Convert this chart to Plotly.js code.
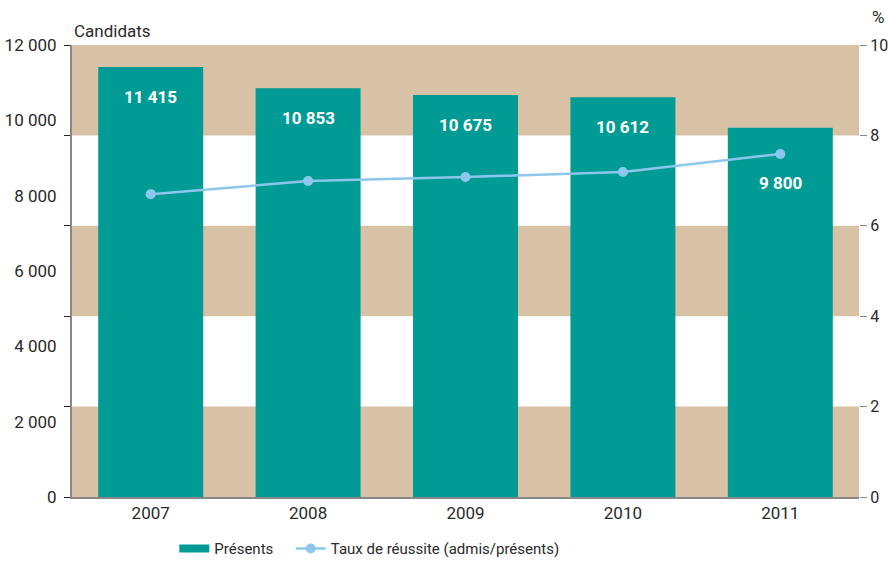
<!DOCTYPE html>
<html><head><meta charset="utf-8">
<script src="https://cdn.plot.ly/plotly-3.0.1.min.js"></script>
<style>html,body{margin:0;padding:0;background:#fff}</style>
</head><body>
<div id="chart" style="width:888px;height:563px"></div>
<script>
const years = [2007, 2008, 2009, 2010, 2011];
const presents = [11415, 10853, 10675, 10612, 9800];
const taux = [6.7, 6.99, 7.08, 7.19, 7.59];
const leftTickVals = [0,2000,4000,6000,8000,10000,12000];
const leftTickText = ['0','2 000','4 000','6 000','8 000','10 000','12 000'];
const leftTickMarks = [0,2400,4800,7200,9600,12000];
const rightTickVals = [0,2,4,6,8,10];
const bandRanges = [[0,2],[4,6],[8,10]];

const FONT = 'Roboto, "Liberation Sans", sans-serif';
const TEAL = '#009B94', TAN = '#D8C2A5', BLUE = '#8DC8EC', TXT = '#2a2a2a';
const fmt = v => String(v).replace(/\B(?=(\d{3})+(?!\d))/g, ' ');
const labelShift = (i) => i === presents.length - 1 ? -43 : -18;

const traces = [
  {type:'bar', x: years, y: presents, name:'Présents', marker:{color:TEAL}, width:0.667, hoverinfo:'skip', showlegend:false},
  {type:'scatter', mode:'lines', x:[null], y:[null], name:'Présents', line:{color:TEAL, width:8}, hoverinfo:'skip', legend:'legend'},
  {type:'scatter', mode:'lines+markers', x: years, y: taux, name:'Taux de réussite (admis/présents)',
   yaxis:'y2', line:{color:BLUE, width:2.5}, marker:{color:BLUE, size:10}, legend:'legend2'}
];

const shapes = bandRanges.map(r => ({type:'rect', xref:'paper', yref:'y2', x0:0, x1:1, y0:r[0], y1:r[1],
  fillcolor:TAN, line:{width:0}, layer:'below'}));

const annotations = presents.map((v,i) => ({x: years[i], y: v, xref:'x', yref:'y', text: '<b>'+fmt(v)+'</b>',
  showarrow:false, yanchor:'top', yshift: labelShift(i), font:{family:FONT, size:17, color:'#fff'}}));
annotations.push({xref:'paper', yref:'paper', x:0, y:1, xanchor:'left', yanchor:'bottom', yshift:2,
  text:'Candidats', showarrow:false, font:{family:FONT, size:17, color:TXT}});
annotations.push({xref:'paper', yref:'paper', x:1, y:1, xanchor:'right', yanchor:'bottom', xshift:27, yshift:16,
  text:'%', showarrow:false, font:{family:FONT, size:17, color:TXT}});

const legendBase = {orientation:'h', xanchor:'left', y:-0.078, yanchor:'top',
  font:{family:FONT, size:15, color:TXT}, itemwidth:30, bgcolor:'rgba(0,0,0,0)'};

const layout = {
  width:888, height:563,
  margin:{l:72, r:29, t:45, b:66, autoexpand:false},
  paper_bgcolor:'#fff', plot_bgcolor:'#fff',
  font:{family:FONT, size:17, color:TXT},
  showlegend:true,
  legend:Object.assign({x:0.13}, legendBase),
  legend2:Object.assign({x:0.278}, legendBase),
  xaxis:{range:[years[0]-0.5, years[years.length-1]+0.5], tickvals:years, ticktext:years.map(String),
    showline:true, linecolor:'#888', linewidth:2, ticks:'', showgrid:false, zeroline:false,
    tickfont:{family:FONT, size:17, color:TXT}},
  yaxis:{range:[0,12000], tickvals:leftTickVals, ticktext:leftTickText, ticks:'', ticklabelstandoff:10,
    minor:{tickvals:leftTickMarks, ticks:'outside', ticklen:6, tickcolor:'#222', showgrid:false},
    showgrid:false, zeroline:false, showline:true, linecolor:'#888', linewidth:2,
    tickfont:{family:FONT, size:17, color:TXT}},
  yaxis2:{overlaying:'y', side:'right', range:[0,10], tickvals:rightTickVals, ticks:'outside', ticklen:7,
    tickcolor:'#888', showgrid:false, zeroline:false, showline:false, tickfont:{family:FONT, size:16, color:TXT}},
  shapes, annotations
};
Plotly.newPlot('chart', traces, layout, {displayModeBar:false, staticPlot:true});
</script>
</body></html>
